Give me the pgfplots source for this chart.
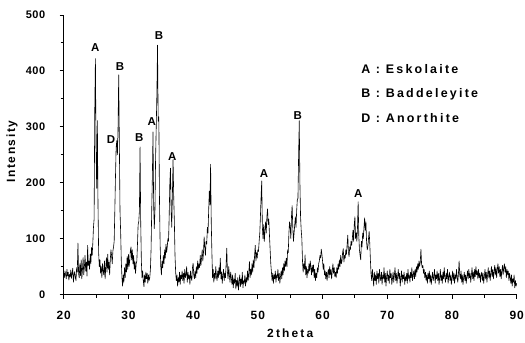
\documentclass[border=0pt]{standalone}
\usepackage{fontspec}
\setmainfont{Liberation Sans}
\usepackage{pgfplots}
\pgfplotsset{compat=1.18}
\begin{document}
\begin{tikzpicture}
\path[use as bounding box] (-63.7bp,-48.5bp) rectangle (461.3bp,294.5bp);
\begin{axis}[
  scale only axis, width=453bp, height=279.5bp,
  xmin=20, xmax=90, ymin=0, ymax=500,
  axis x line*=bottom, axis y line*=left,
  xtick={20,30,...,90}, minor xtick={25,35,...,85},
  ytick={0,100,...,500}, minor ytick={50,150,...,450},
  tick align=outside, major tick length=4bp, minor tick length=3bp,
  tick style={black, line width=0.9bp},
  axis line style={black, line width=1.3bp},
  /pgf/number format/assume math mode=true,
  xticklabel style={font=\bfseries\fontsize{12}{14}\selectfont\addfontfeatures{LetterSpace=8}, anchor=center, yshift=-16.5bp},
  yticklabel style={font=\bfseries\fontsize{11}{13}\selectfont\addfontfeatures{LetterSpace=5}, anchor=east, xshift=-11bp},
  xlabel={2theta}, ylabel={Intensity},
  xlabel style={font=\bfseries\fontsize{12}{14}\selectfont\addfontfeatures{LetterSpace=18}, at={(axis description cs:0.5,0)}, anchor=center, yshift=-38.5bp},
  ylabel style={font=\bfseries\fontsize{12}{14}\selectfont\addfontfeatures{LetterSpace=14}, at={(axis description cs:0,0.511)}, anchor=center, yshift=51.7bp},
  clip=false,
]
\addplot[black, line width=0.6bp, line join=round] coordinates {
(20.0,38) (20.1,30) (20.2,42) (20.3,35) (20.4,28) (20.5,45) (20.6,33) (20.7,40) (20.8,26) (20.9,36)
(21.0,31) (21.1,44) (21.2,29) (21.3,38) (21.4,47) (21.5,22) (21.6,35) (21.7,41) (21.8,30) (21.9,25)
(22.0,48) (22.1,40) (22.2,92) (22.3,38) (22.4,30) (22.5,55) (22.6,34) (22.7,62) (22.8,28) (22.9,45)
(23.0,66) (23.1,35) (23.2,50) (23.3,70) (23.4,42) (23.5,58) (23.6,33) (23.7,88) (23.8,52) (23.9,60)
(24.0,45) (24.1,72) (24.2,55) (24.3,84) (24.4,70) (24.5,92) (24.6,120) (24.7,135) (24.8,330) (24.9,422)
(25.0,260) (25.1,190) (25.2,311) (25.3,160) (25.4,75) (25.5,50) (25.6,62) (25.7,38) (25.8,50) (25.9,30)
(26.0,55) (26.1,42) (26.2,35) (26.3,60) (26.4,28) (26.5,48) (26.6,66) (26.7,40) (26.8,72) (26.9,45)
(27.0,58) (27.1,35) (27.2,62) (27.3,80) (27.4,70) (27.5,55) (27.6,78) (27.7,85) (27.8,95) (27.9,150)
(28.0,210) (28.1,262) (28.2,275) (28.3,250) (28.4,300) (28.5,393) (28.6,270) (28.7,150) (28.8,112) (28.9,60)
(29.0,30) (29.1,15) (29.2,35) (29.3,22) (29.4,48) (29.5,30) (29.6,55) (29.7,40) (29.8,68) (29.9,45)
(30.0,72) (30.1,50) (30.2,60) (30.3,78) (30.4,85) (30.5,62) (30.6,80) (30.7,55) (30.8,70) (30.9,45)
(31.0,60) (31.1,38) (31.2,55) (31.3,60) (31.4,90) (31.5,125) (31.6,130) (31.7,150) (31.8,264) (31.9,130)
(32.0,60) (32.1,30) (32.2,42) (32.3,25) (32.4,14) (32.5,35) (32.6,22) (32.7,40) (32.8,28) (32.9,38)
(33.0,20) (33.1,35) (33.2,25) (33.3,30) (33.4,45) (33.5,80) (33.6,150) (33.7,210) (33.8,291) (33.9,160)
(34.0,118) (34.1,150) (34.2,245) (34.3,300) (34.4,360) (34.5,446) (34.6,310) (34.7,318) (34.8,170) (34.9,90)
(35.0,50) (35.1,35) (35.2,60) (35.3,48) (35.4,70) (35.5,55) (35.6,80) (35.7,65) (35.8,90) (35.9,75)
(36.0,85) (36.1,100) (36.2,95) (36.3,140) (36.4,200) (36.5,226) (36.6,150) (36.7,120) (36.8,180) (36.9,242)
(37.0,175) (37.1,130) (37.2,70) (37.3,40) (37.4,25) (37.5,35) (37.6,15) (37.7,30) (37.8,22) (37.9,40)
(38.0,18) (38.1,35) (38.2,28) (38.3,42) (38.4,25) (38.5,38) (38.6,20) (38.7,45) (38.8,30) (38.9,36)
(39.0,50) (39.1,22) (39.2,40) (39.3,28) (39.4,35) (39.5,18) (39.6,42) (39.7,30) (39.8,25) (39.9,48)
(40.0,56) (40.1,35) (40.2,28) (40.3,42) (40.4,30) (40.5,50) (40.6,38) (40.7,60) (40.8,45) (40.9,55)
(41.0,48) (41.1,70) (41.2,52) (41.3,65) (41.4,80) (41.5,60) (41.6,75) (41.7,103) (41.8,85) (41.9,70)
(42.0,95) (42.1,90) (42.2,120) (42.3,110) (42.4,150) (42.5,185) (42.6,160) (42.7,233) (42.8,130) (42.9,75)
(43.0,30) (43.1,45) (43.2,22) (43.3,38) (43.4,28) (43.5,50) (43.6,32) (43.7,25) (43.8,42) (43.9,30)
(44.0,48) (44.1,35) (44.2,65) (44.3,28) (44.4,40) (44.5,20) (44.6,35) (44.7,45) (44.8,25) (44.9,38)
(45.0,30) (45.1,55) (45.2,83) (45.3,40) (45.4,28) (45.5,50) (45.6,35) (45.7,22) (45.8,40) (45.9,30)
(46.0,18) (46.1,35) (46.2,12) (46.3,28) (46.4,20) (46.5,38) (46.6,10) (46.7,25) (46.8,15) (46.9,30)
(47.0,8) (47.1,22) (47.2,35) (47.3,14) (47.4,28) (47.5,18) (47.6,40) (47.7,12) (47.8,25) (47.9,20)
(48.0,35) (48.1,15) (48.2,30) (48.3,22) (48.4,42) (48.5,25) (48.6,38) (48.7,59) (48.8,30) (48.9,45)
(49.0,35) (49.1,55) (49.2,40) (49.3,62) (49.4,48) (49.5,70) (49.6,88) (49.7,60) (49.8,75) (49.9,65)
(50.0,80) (50.1,77) (50.2,95) (50.3,110) (50.4,140) (50.5,175) (50.6,203) (50.7,120) (50.8,100) (50.9,125)
(51.0,95) (51.1,115) (51.2,130) (51.3,110) (51.4,140) (51.5,153) (51.6,125) (51.7,135) (51.8,105) (51.9,80)
(52.0,55) (52.1,40) (52.2,25) (52.3,38) (52.4,20) (52.5,35) (52.6,28) (52.7,42) (52.8,22) (52.9,35)
(53.0,30) (53.1,45) (53.2,25) (53.3,38) (53.4,20) (53.5,32) (53.6,42) (53.7,28) (53.8,48) (53.9,35)
(54.0,55) (54.1,42) (54.2,60) (54.3,50) (54.4,65) (54.5,50) (54.6,80) (54.7,75) (54.8,110) (54.9,130)
(55.0,120) (55.1,100) (55.2,140) (55.3,159) (55.4,120) (55.5,95) (55.6,110) (55.7,125) (55.8,139) (55.9,120)
(56.0,150) (56.1,170) (56.2,172) (56.3,250) (56.4,311) (56.5,200) (56.6,140) (56.7,115) (56.8,100) (56.9,60)
(57.0,40) (57.1,55) (57.2,45) (57.3,71) (57.4,35) (57.5,50) (57.6,30) (57.7,45) (57.8,38) (57.9,55)
(58.0,42) (58.1,60) (58.2,48) (58.3,35) (58.4,52) (58.5,40) (58.6,53) (58.7,30) (58.8,45) (58.9,25)
(59.0,38) (59.1,30) (59.2,48) (59.3,40) (59.4,55) (59.5,60) (59.6,70) (59.7,65) (59.8,81) (59.9,72)
(60.0,60) (60.1,45) (60.2,55) (60.3,35) (60.4,42) (60.5,28) (60.6,40) (60.7,25) (60.8,38) (60.9,45)
(61.0,30) (61.1,50) (61.2,35) (61.3,45) (61.4,28) (61.5,42) (61.6,55) (61.7,38) (61.8,48) (61.9,32)
(62.0,40) (62.1,30) (62.2,48) (62.3,38) (62.4,55) (62.5,45) (62.6,62) (62.7,50) (62.8,70) (62.9,55)
(63.0,60) (63.1,75) (63.2,82) (63.3,58) (63.4,70) (63.5,65) (63.6,80) (63.7,72) (63.8,90) (63.9,106)
(64.0,75) (64.1,68) (64.2,85) (64.3,80) (64.4,95) (64.5,88) (64.6,100) (64.7,115) (64.8,95) (64.9,125)
(65.0,139) (65.1,100) (65.2,110) (65.3,95) (65.4,120) (65.5,166) (65.6,105) (65.7,80) (65.8,70) (65.9,62)
(66.0,95) (66.1,85) (66.2,110) (66.3,100) (66.4,120) (66.5,137) (66.6,115) (66.7,130) (66.8,95) (66.9,80)
(67.0,85) (67.1,100) (67.2,113) (67.3,90) (67.4,60) (67.5,35) (67.6,25) (67.7,45) (67.8,30) (67.9,15)
(68.0,40) (68.1,25) (68.2,35) (68.3,18) (68.4,42) (68.5,28) (68.6,38) (68.7,20) (68.8,45) (68.9,30)
(69.0,25) (69.1,40) (69.2,18) (69.3,35) (69.4,28) (69.5,48) (69.6,22) (69.7,38) (69.8,15) (69.9,32)
(70.0,42) (70.1,25) (70.2,35) (70.3,20) (70.4,45) (70.5,30) (70.6,38) (70.7,18) (70.8,28) (70.9,40)
(71.0,22) (71.1,35) (71.2,48) (71.3,25) (71.4,38) (71.5,20) (71.6,32) (71.7,45) (71.8,28) (71.9,38)
(72.0,15) (72.1,30) (72.2,42) (72.3,22) (72.4,35) (72.5,28) (72.6,40) (72.7,18) (72.8,32) (72.9,25)
(73.0,38) (73.1,20) (73.2,45) (73.3,28) (73.4,35) (73.5,22) (73.6,40) (73.7,30) (73.8,48) (73.9,25)
(74.0,35) (74.1,42) (74.2,28) (74.3,45) (74.4,32) (74.5,50) (74.6,40) (74.7,55) (74.8,45) (74.9,60)
(75.0,50) (75.1,58) (75.2,81) (75.3,55) (75.4,48) (75.5,52) (75.6,38) (75.7,45) (75.8,30) (75.9,40)
(76.0,25) (76.1,35) (76.2,20) (76.3,38) (76.4,28) (76.5,42) (76.6,22) (76.7,35) (76.8,18) (76.9,30)
(77.0,40) (77.1,25) (77.2,32) (77.3,45) (77.4,20) (77.5,35) (77.6,28) (77.7,42) (77.8,25) (77.9,38)
(78.0,18) (78.1,30) (78.2,45) (78.3,25) (78.4,35) (78.5,20) (78.6,40) (78.7,28) (78.8,48) (78.9,30)
(79.0,22) (79.1,38) (79.2,28) (79.3,45) (79.4,20) (79.5,32) (79.6,40) (79.7,25) (79.8,35) (79.9,18)
(80.0,30) (80.1,42) (80.2,25) (80.3,38) (80.4,20) (80.5,35) (80.6,28) (80.7,45) (80.8,30) (80.9,22)
(81.0,38) (81.1,60) (81.2,35) (81.3,28) (81.4,42) (81.5,22) (81.6,35) (81.7,18) (81.8,30) (81.9,40)
(82.0,25) (82.1,35) (82.2,20) (82.3,32) (82.4,42) (82.5,28) (82.6,45) (82.7,30) (82.8,38) (82.9,22)
(83.0,35) (83.1,48) (83.2,28) (83.3,40) (83.4,25) (83.5,45) (83.6,32) (83.7,50) (83.8,35) (83.9,42)
(84.0,28) (84.1,45) (84.2,30) (84.3,38) (84.4,22) (84.5,35) (84.6,40) (84.7,25) (84.8,38) (84.9,20)
(85.0,32) (85.1,45) (85.2,28) (85.3,40) (85.4,22) (85.5,35) (85.6,48) (85.7,30) (85.8,42) (85.9,25)
(86.0,38) (86.1,50) (86.2,32) (86.3,45) (86.4,28) (86.5,40) (86.6,52) (86.7,35) (86.8,48) (86.9,30)
(87.0,45) (87.1,55) (87.2,38) (87.3,50) (87.4,32) (87.5,45) (87.6,28) (87.7,42) (87.8,52) (87.9,35)
(88.0,48) (88.1,55) (88.2,40) (88.3,50) (88.4,30) (88.5,45) (88.6,35) (88.7,42) (88.8,25) (88.9,38)
(89.0,30) (89.1,20) (89.2,35) (89.3,15) (89.4,28) (89.5,22) (89.6,35) (89.7,12) (89.8,25) (89.9,15)
(90.0,20)
};
\begin{scope}[every node/.style={inner sep=0pt, font=\bfseries\fontsize{11.5}{13}\selectfont}]
\node at (axis cs:24.88,441.5) {A};
\node at (axis cs:28.7,407.5) {B};
\node at (axis cs:27.31,278) {D};
\node at (axis cs:31.68,281) {B};
\node at (axis cs:33.6,309) {A};
\node at (axis cs:34.73,464) {B};
\node at (axis cs:36.78,246.5) {A};
\node at (axis cs:50.96,217) {A};
\node at (axis cs:56.17,320) {B};
\node at (axis cs:65.53,181) {A};
\end{scope}
\begin{scope}[every node/.style={inner sep=0pt, anchor=west, font=\bfseries\fontsize{12.5}{14}\selectfont\addfontfeatures{LetterSpace=18}}]
\node at (axis cs:65.95,402.9) {A : Eskolaite};
\node at (axis cs:65.95,358.7) {B : Baddeleyite};
\node at (axis cs:65.95,315.2) {D : Anorthite};
\end{scope}
\end{axis}
\end{tikzpicture}
\end{document}
